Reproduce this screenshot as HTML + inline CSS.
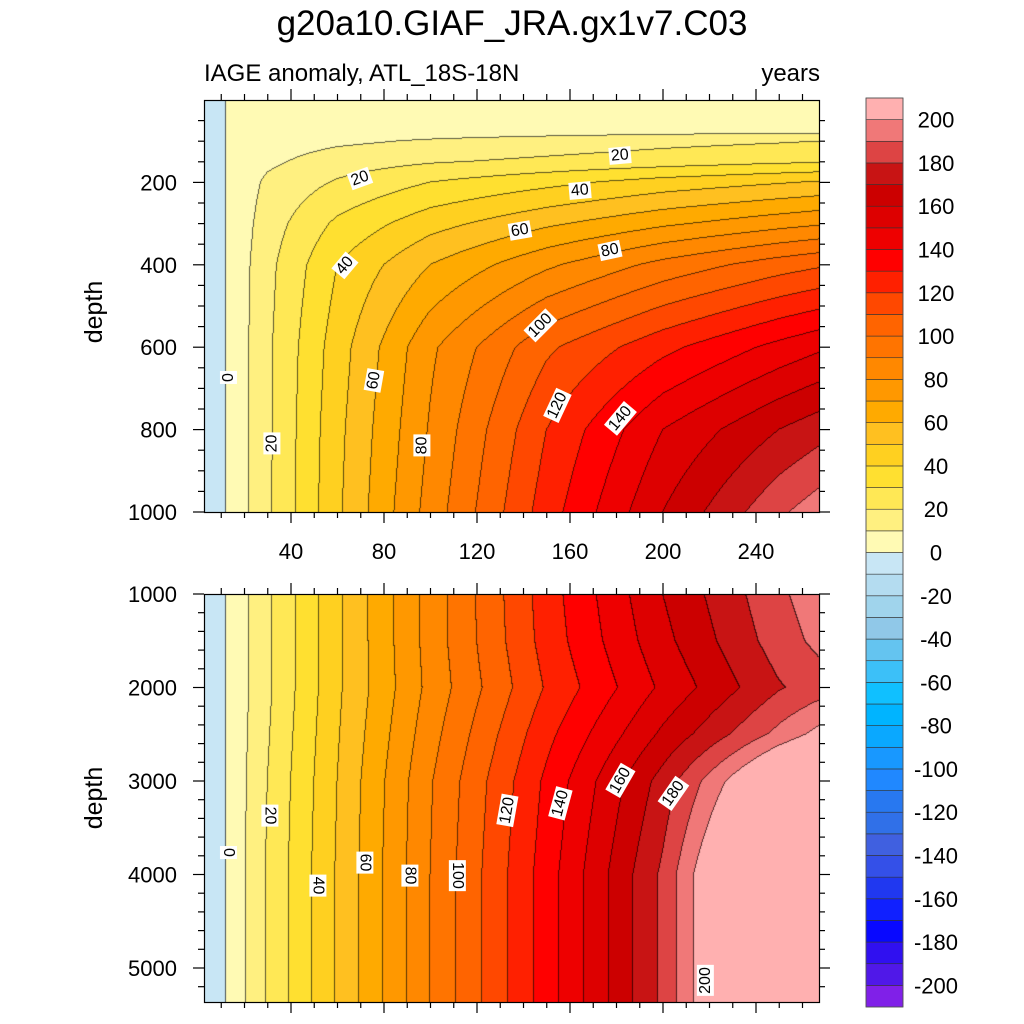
<!DOCTYPE html>
<html><head><meta charset="utf-8"><style>
html,body{margin:0;padding:0;background:#fff;}
body{width:1024px;height:1024px;position:relative;overflow:hidden;font-family:"Liberation Sans",sans-serif;}
.t{position:absolute;color:#000;white-space:nowrap;}
.cl{position:absolute;background:#fff;font-size:16px;line-height:17px;padding:0 2px;transform-origin:center;}
</style></head><body>
<div class="t" style="left:0;width:1024px;text-align:center;top:4px;font-size:35px;">g20a10.GIAF_JRA.gx1v7.C03</div>
<div class="t" style="left:204px;top:60px;font-size:24px;">IAGE anomaly, ATL_18S-18N</div>
<div class="t" style="right:204px;top:60px;font-size:24px;">years</div>
<svg id="svg" width="1024" height="1024" style="position:absolute;left:0;top:0">
<foreignObject x="204" y="100" width="615" height="412"><canvas xmlns="http://www.w3.org/1999/xhtml" id="c1" width="615" height="412"></canvas></foreignObject>
<foreignObject x="204" y="594" width="615" height="408"><canvas xmlns="http://www.w3.org/1999/xhtml" id="c2" width="615" height="408"></canvas></foreignObject>
</svg>
<div id="labels"></div>
<script>
const years=[0,12,30,60,100,150,200,250,270];
const depths=[0,80,100,150,200,300,400,600,800,1000,1500,2000,2500,3000,4000,5000,5400];
const row_d0=[-4,0,3,4,5,5,6,6,6];
const row_d80=[-4,0,3,5,6,7,8,9,9];
const row_d100=[-4,0,5,8,11,14,17,19,20];
const row_d150=[-4,0,8,15,19,22,25,28,29];
const row_d200=[-4,0,12,21,30,37,44,49,51];
const row_d300=[-4,0,15,32,46,58,68,76,79];
const row_d400=[-4,0,17,40,60,78,93,105,109];
const row_d600=[-4,0,18,45,78,108,127,143,149];
const row_d800=[-4,0,18,47,81,120,150,170,177];
const row_d1000=[-4,0,18,48,84,125,160,188,197];
const row_d1500=[-4,0,18,48,84,124,157,185,194];
const row_d2000=[-4,0,18,48,83,121,152,179,186];
const row_d2500=[-4,0,19,49,86,127,162,193,205];
const row_d3000=[-4,0,20,50,89,132,174,222,233];
const row_d4000=[-4,0,21,51,90,135,182,250,255];
const row_d5000=[-4,0,21,51,90,135,182,250,255];
const row_d5400=[-4,0,21,51,90,135,182,250,255];
const grid=[row_d0,row_d80,row_d100,row_d150,row_d200,row_d300,row_d400,row_d600,row_d800,row_d1000,row_d1500,row_d2000,row_d2500,row_d3000,row_d4000,row_d5000,row_d5400];
const levelMin=-200, levelStep=10;
const colors=["#8020e8","#5018e8","#3010f0","#0808ff","#1020ff","#2038f0","#3450e8","#4060e0","#3070e8","#2878f0","#2088ff","#1898ff","#0aa8ff","#00b4ff","#10c0ff","#3cc0f8","#64c4f0","#90c8e8","#a0d4ec","#b4dcf0","#c8e6f5",
"#fffab4","#fff080","#ffe855","#ffe030","#ffd020","#ffc020","#ffaa00","#ff9800","#ff8800","#ff7400","#ff6400","#ff4800","#ff2000","#ff0000","#ee0000","#dd0000","#cc0000","#c81414","#dd4444","#f07878","#ffb0b0"];
const cbTicks=[200,180,160,140,120,100,80,60,40,20,0,-20,-40,-60,-80,-100,-120,-140,-160,-180,-200];
const xTicks=[40,80,120,160,200,240];
const yTicksTop=[200,400,600,800,1000];
const yTicksBot=[1000,2000,3000,4000,5000];
const X0=198, XS=2.325, PL=204, PR=819;
const xPix=t=>X0+XS*t, tOf=x=>(x-X0)/XS;
const yTop=d=>100+0.412*d, dTop=y=>(y-100)/0.412;
const yBot=d=>594+0.0935*(d-1000), dBot=y=>1000+(y-594)/0.0935;
function seg(arr,v){let i=0;while(i<arr.length-2&&v>arr[i+1])i++;let f=(v-arr[i])/(arr[i+1]-arr[i]);return [i,Math.max(0,Math.min(1,f))];}
function val(t,d){const [i,fi]=seg(depths,d),[j,fj]=seg(years,t);
 const a=grid[i][j],b=grid[i][j+1],c=grid[i+1][j],e=grid[i+1][j+1];
 return (a*(1-fj)+b*fj)*(1-fi)+(c*(1-fj)+e*fj)*fi;}
function idx(v){let k=Math.floor((v-levelMin)/levelStep)+1;return Math.max(0,Math.min(colors.length-1,k));}
function hex(h){return [parseInt(h.substr(1,2),16),parseInt(h.substr(3,2),16),parseInt(h.substr(5,2),16)];}
const rgb=colors.map(hex);
function draw(id,top,h,dOf){const cv=document.getElementById(id),ctx=cv.getContext('2d');const W=615;
 const img=ctx.createImageData(W,h);const K=new Int16Array(W*h);
 for(let y=0;y<h;y++){const d=dOf(top+y+0.5);for(let x=0;x<W;x++){K[y*W+x]=idx(val(tOf(PL+x+0.5),d));}}
 for(let y=0;y<h;y++)for(let x=0;x<W;x++){const k=K[y*W+x];let c=rgb[k];let p=(y*W+x)*4;
  const edge=(x<W-1&&K[y*W+x+1]!==k)||(y<h-1&&K[(y+1)*W+x]!==k);
  if(edge){img.data[p]=c[0]*0.35;img.data[p+1]=c[1]*0.35;img.data[p+2]=c[2]*0.35;}else{img.data[p]=c[0];img.data[p+1]=c[1];img.data[p+2]=c[2];}
  img.data[p+3]=255;}
 ctx.putImageData(img,0,0);}
draw('c1',100,412,dTop);draw('c2',594,408,dBot);
const svg=document.getElementById('svg'),NS="http://www.w3.org/2000/svg";
function el(tag,attrs,name){const e=document.createElementNS(NS,tag);for(const k in attrs)e.setAttribute(k,attrs[k]);
 
 
 svg.appendChild(e);return e;}
function line(x1,y1,x2,y2,name){return el('line',{x1,y1,x2,y2,stroke:'#000','stroke-width':1.2},name);}
function text(x,y,s,anchor,size,name){const e=el('text',{x,y,'text-anchor':anchor,'font-size':size,'font-family':'Liberation Sans, sans-serif',fill:'#000'},name);e.textContent=s;return e;}
el('rect',{x:204.5,y:100.5,width:615,height:412,fill:'none',stroke:'#000','stroke-width':1.2},'upper-plot-frame');
el('rect',{x:204.5,y:594.5,width:615,height:408,fill:'none',stroke:'#000','stroke-width':1.2},'lower-plot-frame');
for(let t=10;t<=260;t+=10){const x=xPix(t);if(x<PL||x>PR)continue;const major=t%40===0;const L=major?11:6;
 line(x,100,x,100-L,'x-tick');line(x,512,x,512+L,'x-tick');line(x,594,x,594-L,'x-tick');line(x,1002,x,1002+L,'x-tick');}
xTicks.forEach(t=>text(xPix(t),559,String(t),'middle',22,'x-tick-label'));
for(let d=50;d<=1000;d+=50){const y=yTop(d);const major=d%200===0;const L=major?11:6;line(PL,y,PL-L,y,'y-tick');line(PR,y,PR+L,y,'y-tick');}
yTicksTop.forEach(d=>text(177,yTop(d)+8,String(d),'end',22,'y-tick-label-upper'));
for(let d=1000;d<=5300;d+=200){const y=yBot(d);const major=d%1000===0;const L=major?11:6;line(PL,y,PL-L,y,'y-tick');line(PR,y,PR+L,y,'y-tick');}
yTicksBot.forEach(d=>text(177,yBot(d)+8,String(d),'end',22,'y-tick-label-lower'));
const ya=text(0,0,'depth','middle',25,'y-axis-title-upper');ya.setAttribute('transform','translate(102,312) rotate(-90)');
const yb=text(0,0,'depth','middle',25,'y-axis-title-lower');yb.setAttribute('transform','translate(102,798) rotate(-90)');
const CB0=98,CB1=1007,nb=colors.length,bh=(CB1-CB0)/nb;
for(let k=0;k<nb;k++){const y=CB1-(k+1)*bh;el('rect',{x:866,y:y,width:37,height:bh,fill:colors[k],stroke:'#333','stroke-width':0.6},'colorbar-box');}
el('rect',{x:866,y:CB0,width:37,height:CB1-CB0,fill:'none',stroke:'#555','stroke-width':0.8},'colorbar-frame');
cbTicks.forEach(v=>{const k=(v-levelMin)/levelStep+1;const y=CB1-k*bh;text(936,y+8,String(v),'middle',22,'colorbar-label');});
const labs=[[0,228,377,-90],[20,272,443,-90],[60,374,380,-80],[80,422,445,-90],[40,345,265,-50],[20,360,178,-20],[100,540,325,-45],[120,557,405,-65],[140,620,418,-50],[60,520,230,-10],[80,610,250,-12],[40,580,190,-5],[20,620,155,-5],
[0,228,852,90],[20,270,815,90],[40,318,885,90],[60,365,862,90],[80,410,875,90],[100,457,875,90],[120,507,810,-80],[140,560,803,-75],[160,620,780,-60],[180,673,793,-55],[200,705,980,-90]];
const L=document.getElementById('labels');
labs.forEach(a=>{const d=document.createElement('div');d.className='cl';d.textContent=a[0];
 
 
 L.appendChild(d);const w=d.offsetWidth,h=d.offsetHeight;d.style.left=(a[1]-w/2)+'px';d.style.top=(a[2]-h/2)+'px';d.style.transform='rotate('+a[3]+'deg)';});
</script>
</body></html>
